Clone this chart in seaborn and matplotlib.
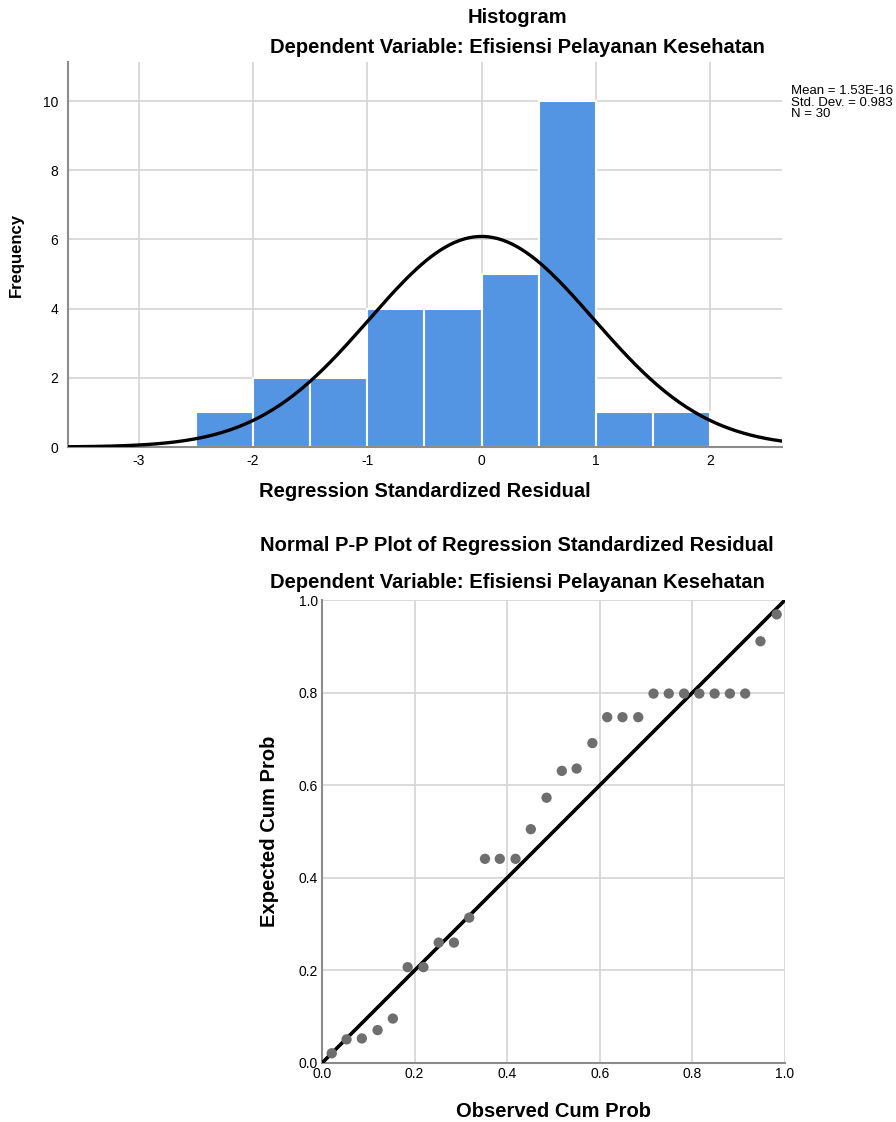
import matplotlib
matplotlib.use("Agg")
import matplotlib.pyplot as plt
import numpy as np
import pandas as pd
import seaborn as sns

# histogram of standardized residuals (counts per 0.5 bin)
bin_edges = [-2.5, -2.0, -1.5, -1.0, -0.5, 0.0, 0.5, 1.0, 1.5, 2.0]
bin_counts = [1, 2, 2, 4, 4, 5, 10, 1, 1]
res_mean = 1.53e-16
res_std = 0.983
res_n = 30

# P-P plot points
observed_cum = [0.021, 0.053, 0.086, 0.120, 0.153, 0.185, 0.219, 0.252, 0.285, 0.318,
                0.352, 0.384, 0.418, 0.451, 0.485, 0.518, 0.550, 0.584, 0.616, 0.649,
                0.683, 0.716, 0.749, 0.782, 0.815, 0.848, 0.881, 0.914, 0.947, 0.982]
expected_cum = [0.021, 0.051, 0.053, 0.071, 0.096, 0.207, 0.207, 0.260, 0.260, 0.314,
                0.441, 0.441, 0.441, 0.505, 0.573, 0.631, 0.636, 0.691, 0.747, 0.747,
                0.747, 0.798, 0.798, 0.798, 0.798, 0.798, 0.798, 0.798, 0.911, 0.969]

sns.set_style("whitegrid", {"grid.color": "#d4d4d4", "axes.edgecolor": "#8c8c8c"})
plt.rcParams['font.family'] = ['Liberation Sans', 'DejaVu Sans']
plt.rcParams['axes.unicode_minus'] = False
plt.rcParams['text.color'] = 'black'
plt.rcParams['axes.labelcolor'] = 'black'
plt.rcParams['xtick.color'] = 'black'
plt.rcParams['ytick.color'] = 'black'

TitleFont = {'size': 14.5, 'weight': 'bold', 'color': 'black'}
AxesFont = {'size': 14.5, 'weight': 'bold', 'color': 'black'}

fig = plt.figure(figsize=(8.96, 11.22), dpi=100)

# ---------------- histogram ----------------
ax1 = fig.add_axes([0.0759, 0.6016, 0.7969, 0.3431])
centers = [(a + b) / 2 for a, b in zip(bin_edges[:-1], bin_edges[1:])]
hist_df = pd.DataFrame({'resid': centers, 'count': bin_counts})
sns.histplot(data=hist_df, x='resid', weights='count', bins=bin_edges, ax=ax1,
             color='#5394E3', alpha=1, edgecolor='white', linewidth=1.5, zorder=2)

xs = np.linspace(-3.62, 2.63, 300)
curve = res_n * 0.5 * np.exp(-0.5 * ((xs - res_mean) / res_std) ** 2) / (res_std * np.sqrt(2 * np.pi))
sns.lineplot(x=xs, y=curve, ax=ax1, color='black', linewidth=2.4, zorder=3)

ax1.set_xlim(-3.62, 2.63)
ax1.set_ylim(0, 11.13)
ax1.set_xticks([-3, -2, -1, 0, 1, 2])
ax1.set_yticks([0, 2, 4, 6, 8, 10])
ax1.tick_params(labelsize=10, length=0)
ax1.tick_params(axis='y', pad=7)
ax1.tick_params(axis='x', pad=5)
ax1.set_axisbelow(True)
ax1.grid(True, color='#d4d4d4', linewidth=1.2)
for s in ['top', 'right']:
    ax1.spines[s].set_visible(False)
for s in ['left', 'bottom']:
    ax1.spines[s].set_linewidth(1.5)
ax1.set_xlabel('Regression Standardized Residual', fontdict=AxesFont, labelpad=10)
ax1.set_ylabel('Frequency', fontsize=12, fontweight='bold', labelpad=14)

fig.text(0.578, 0.984, 'Histogram', ha='center', va='center', fontdict=TitleFont)
fig.text(0.578, 0.958, 'Dependent Variable: Efisiensi Pelayanan Kesehatan', ha='center',
         va='center', fontdict=TitleFont)
fig.text(0.883, 0.924, 'Mean = 1.53E-16\nStd. Dev. = 0.983\nN = 30', ha='left', va='top',
         fontsize=9.5, linespacing=0.95)

# ---------------- P-P plot ----------------
ax2 = fig.add_axes([0.3594, 0.0526, 0.5167, 0.4126])
sns.lineplot(x=[0, 1], y=[0, 1], ax=ax2, color='black', linewidth=2.6, zorder=3)
sns.scatterplot(x=observed_cum, y=expected_cum, ax=ax2, color='#6e6e6e', s=55,
                edgecolor='none', zorder=4, clip_on=False)
ax2.set_xlim(0, 1)
ax2.set_ylim(0, 1)
ticks = [0.0, 0.2, 0.4, 0.6, 0.8, 1.0]
ax2.set_xticks(ticks)
ax2.set_yticks(ticks)
ax2.set_xticklabels([f'{t:.1f}' for t in ticks])
ax2.set_yticklabels([f'{t:.1f}' for t in ticks])
ax2.tick_params(labelsize=10, length=0, pad=3)
ax2.set_axisbelow(True)
ax2.grid(True, color='#d4d4d4', linewidth=1.2)
for s in ['top', 'right']:
    ax2.spines[s].set_visible(False)
for s in ['left', 'bottom']:
    ax2.spines[s].set_linewidth(1.5)
ax2.set_xlabel('Observed Cum Prob', fontdict=AxesFont, labelpad=15)
ax2.set_ylabel('Expected Cum Prob', fontdict=AxesFont, labelpad=14)

fig.text(0.577, 0.514, 'Normal P-P Plot of Regression Standardized Residual', ha='center',
         va='center', fontdict=TitleFont)
fig.text(0.577, 0.481, 'Dependent Variable: Efisiensi Pelayanan Kesehatan', ha='center',
         va='center', fontdict=TitleFont)

fig.savefig('out.png', dpi=100)
